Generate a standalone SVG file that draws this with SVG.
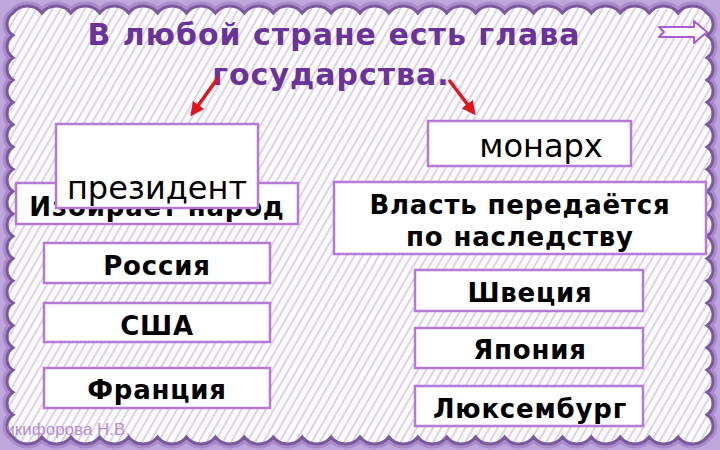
<svg xmlns="http://www.w3.org/2000/svg" width="720" height="450" viewBox="0 0 720 450">
<style>
.box{fill:#ffffff;stroke:#b57ad8;stroke-width:2.5}
.lbl{font-family:"DejaVu Sans",sans-serif;font-weight:bold;font-size:26px;letter-spacing:0.8px;fill:#000;text-anchor:middle}
.big{font-family:"DejaVu Sans",sans-serif;font-size:32px;fill:#000;text-anchor:middle}
.title{font-family:"DejaVu Sans",sans-serif;font-weight:bold;font-size:30px;letter-spacing:1px;fill:#6a3399;text-anchor:middle}
.conn{stroke:#e3151c;stroke-width:3.5;fill:none}
</style>
<defs>
<pattern id="stripes" patternUnits="userSpaceOnUse" width="7" height="20" patternTransform="rotate(30)">
<rect width="7" height="20" fill="#fdfbfe"/>
<line x1="1" y1="0" x2="1" y2="20" stroke="#b9adc6" stroke-width="1"/>
</pattern>
<marker id="ah" viewBox="0 0 10 10" refX="8" refY="5" markerWidth="4" markerHeight="4" orient="auto" markerUnits="strokeWidth">
<path d="M0,0 L10,5 L0,10 z" fill="#e3151c"/>
</marker>
<path id="inner" d="M13,13
a18.4 18.4 0 0 1 28.917 0 a18.4 18.4 0 0 1 28.917 0 a18.4 18.4 0 0 1 28.917 0 a18.4 18.4 0 0 1 28.917 0 a18.4 18.4 0 0 1 28.917 0 a18.4 18.4 0 0 1 28.917 0 a18.4 18.4 0 0 1 28.917 0 a18.4 18.4 0 0 1 28.917 0 a18.4 18.4 0 0 1 28.917 0 a18.4 18.4 0 0 1 28.917 0 a18.4 18.4 0 0 1 28.917 0 a18.4 18.4 0 0 1 28.917 0 a18.4 18.4 0 0 1 28.917 0 a18.4 18.4 0 0 1 28.917 0 a18.4 18.4 0 0 1 28.917 0 a18.4 18.4 0 0 1 28.917 0 a18.4 18.4 0 0 1 28.917 0 a18.4 18.4 0 0 1 28.917 0 a18.4 18.4 0 0 1 28.917 0 a18.4 18.4 0 0 1 28.917 0 a18.4 18.4 0 0 1 28.917 0 a18.4 18.4 0 0 1 28.917 0 a18.4 18.4 0 0 1 28.917 0 a18.4 18.4 0 0 1 28.917 0
a13.4 13.4 0 0 1 0 22.316 a13.4 13.4 0 0 1 0 22.316 a13.4 13.4 0 0 1 0 22.316 a13.4 13.4 0 0 1 0 22.316 a13.4 13.4 0 0 1 0 22.316 a13.4 13.4 0 0 1 0 22.316 a13.4 13.4 0 0 1 0 22.316 a13.4 13.4 0 0 1 0 22.316 a13.4 13.4 0 0 1 0 22.316 a13.4 13.4 0 0 1 0 22.316 a13.4 13.4 0 0 1 0 22.316 a13.4 13.4 0 0 1 0 22.316 a13.4 13.4 0 0 1 0 22.316 a13.4 13.4 0 0 1 0 22.316 a13.4 13.4 0 0 1 0 22.316 a13.4 13.4 0 0 1 0 22.316 a13.4 13.4 0 0 1 0 22.316 a13.4 13.4 0 0 1 0 22.316 a13.4 13.4 0 0 1 0 22.316
a18.4 18.4 0 0 1 -28.917 0 a18.4 18.4 0 0 1 -28.917 0 a18.4 18.4 0 0 1 -28.917 0 a18.4 18.4 0 0 1 -28.917 0 a18.4 18.4 0 0 1 -28.917 0 a18.4 18.4 0 0 1 -28.917 0 a18.4 18.4 0 0 1 -28.917 0 a18.4 18.4 0 0 1 -28.917 0 a18.4 18.4 0 0 1 -28.917 0 a18.4 18.4 0 0 1 -28.917 0 a18.4 18.4 0 0 1 -28.917 0 a18.4 18.4 0 0 1 -28.917 0 a18.4 18.4 0 0 1 -28.917 0 a18.4 18.4 0 0 1 -28.917 0 a18.4 18.4 0 0 1 -28.917 0 a18.4 18.4 0 0 1 -28.917 0 a18.4 18.4 0 0 1 -28.917 0 a18.4 18.4 0 0 1 -28.917 0 a18.4 18.4 0 0 1 -28.917 0 a18.4 18.4 0 0 1 -28.917 0 a18.4 18.4 0 0 1 -28.917 0 a18.4 18.4 0 0 1 -28.917 0 a18.4 18.4 0 0 1 -28.917 0 a18.4 18.4 0 0 1 -28.917 0
a13.4 13.4 0 0 1 0 -22.316 a13.4 13.4 0 0 1 0 -22.316 a13.4 13.4 0 0 1 0 -22.316 a13.4 13.4 0 0 1 0 -22.316 a13.4 13.4 0 0 1 0 -22.316 a13.4 13.4 0 0 1 0 -22.316 a13.4 13.4 0 0 1 0 -22.316 a13.4 13.4 0 0 1 0 -22.316 a13.4 13.4 0 0 1 0 -22.316 a13.4 13.4 0 0 1 0 -22.316 a13.4 13.4 0 0 1 0 -22.316 a13.4 13.4 0 0 1 0 -22.316 a13.4 13.4 0 0 1 0 -22.316 a13.4 13.4 0 0 1 0 -22.316 a13.4 13.4 0 0 1 0 -22.316 a13.4 13.4 0 0 1 0 -22.316 a13.4 13.4 0 0 1 0 -22.316 a13.4 13.4 0 0 1 0 -22.316 a13.4 13.4 0 0 1 0 -22.316 Z"/>
<clipPath id="innerclip"><use href="#inner"/></clipPath>
</defs>
<g id="background">
<rect width="720" height="450" fill="#bfa6dc"/>
<use href="#inner" fill="none" stroke="#a98bcb" stroke-width="9"/>
<use href="#inner" fill="url(#stripes)" stroke="#7a5a9c" stroke-width="3"/>
</g>
<g id="watermark" clip-path="url(#innerclip)"><text x="-7" y="435" font-family="Liberation Sans, sans-serif" font-size="17" fill="#b58fd2">Никифорова Н.В.</text></g>
<g id="title">
<text class="title" x="334" y="45">В любой стране есть глава</text>
<text class="title" x="331" y="85">государства.</text>
</g>
<g id="next-arrow"><path d="M659,27 L694,27 L694,21 L707,32 L694,43 L694,37 L659,37 L664,32 Z" fill="#ffffff" stroke="#a95ad6" stroke-width="2" stroke-linejoin="round"/></g>
<g id="connectors">
<line class="conn" x1="218" y1="78" x2="192" y2="114" marker-end="url(#ah)"/>
<line class="conn" x1="449" y1="80" x2="474" y2="113" marker-end="url(#ah)"/>
</g>
<g id="elects"><rect class="box" x="16" y="183" width="282" height="41"/><text class="lbl" x="157" y="216">Избирает народ</text></g>
<g id="president"><rect class="box" x="56" y="124" width="202" height="84"/><text class="big" x="157" y="199">президент</text></g>
<g id="russia"><rect class="box" x="44" y="243" width="226" height="40"/><text class="lbl" x="157" y="275">Россия</text></g>
<g id="usa"><rect class="box" x="44" y="303" width="226" height="39"/><text class="lbl" x="157" y="335">США</text></g>
<g id="france"><rect class="box" x="44" y="368" width="226" height="40"/><text class="lbl" x="157" y="399">Франция</text></g>
<g id="monarch"><rect class="box" x="428" y="121" width="203" height="45"/><text class="big" x="541" y="157" font-size="30">монарх</text></g>
<g id="inherit"><rect class="box" x="334" y="182" width="372" height="72"/><text class="lbl" x="520" y="214">Власть передаётся</text><text class="lbl" x="520" y="246">по наследству</text></g>
<g id="sweden"><rect class="box" x="415" y="270" width="228" height="41"/><text class="lbl" x="530" y="302">Швеция</text></g>
<g id="japan"><rect class="box" x="415" y="328" width="228" height="40"/><text class="lbl" x="530" y="359">Япония</text></g>
<g id="luxembourg"><rect class="box" x="415" y="386" width="228" height="40"/><text class="lbl" x="530" y="418">Люксембург</text></g>
</svg>
